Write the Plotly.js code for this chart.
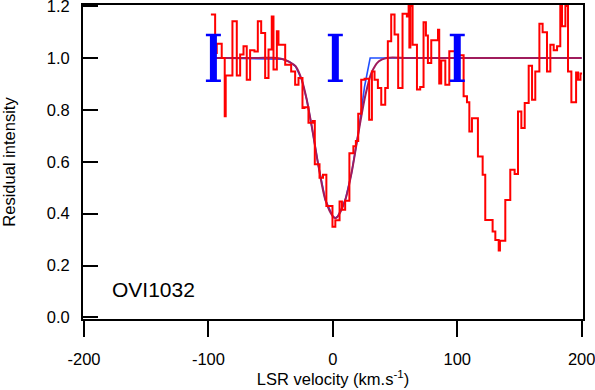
<!DOCTYPE html>
<html>
<head>
<meta charset="utf-8">
<script src="https://cdn.plot.ly/plotly-3.0.1.min.js"></script>
<style>
  html, body { margin: 0; padding: 0; background: #fff; }
  #plot { width: 595px; height: 390px; }
</style>
</head>
<body>
<div id="plot"></div>
<script>
// observed spectrum, left bin edges (km/s) and residual intensity
var specV = [-98.0, -94.6, -93.3, -89.3, -86.9, -86.1, -80.7, -77.2, -74.5, -71.8,
             -69.2, -66.5, -63.0, -60.3, -57.6, -54.4, -51.7, -49.1, -47.7, -45.0,
             -43.7, -38.3, -33.5, -30.3, -27.6, -24.4, -22.8, -19.6, -16.1, -14.5,
             -10.7, -7.9, -5.2, -0.3, 2.0, 5.4, 7.3, 9.9, 13.3, 16.5,
             18.5, 20.4, 22.8, 25.5, 29.2, 31.4, 33.5, 36.2, 38.9, 42.1,
             44.2, 46.9, 49.6, 52.5, 56.0, 59.5, 60.9, 61.5, 62.3, 64.1,
             67.6, 70.2, 72.9, 74.8, 76.4, 79.1, 84.5, 85.5, 87.1, 90.4,
             93.6, 99.0, 105.1, 107.8, 109.7, 111.8, 116.6, 120.4, 122.5, 128.4,
             130.6, 133.3, 134.3, 138.6, 142.6, 146.1, 148.8, 151.5, 154.2, 157.4,
             160.1, 162.7, 166.0, 168.6, 172.1, 174.8, 177.5, 180.2, 182.8, 184.2,
             186.9, 189.0, 191.7, 195.5, 197.1, 199.0, 200.3];
var specI = [1.167, 1.019, 1.055, 1.0, 0.775, 0.932, 1.141, 0.932, 1.013, 1.045,
             0.916, 1.03, 1.025, 1.141, 1.096, 0.923, 1.032, 1.16, 0.955, 1.103,
             1.051, 0.974, 0.948, 0.897, 0.923, 0.807, 0.81, 0.75, 0.757, 0.59,
             0.538, 0.55, 0.43, 0.35, 0.375, 0.447, 0.415, 0.45, 0.633, 0.66,
             0.68, 0.785, 0.916, 0.92, 0.762, 0.948, 0.916, 0.884, 0.82, 0.884,
             1.064, 1.167, 1.09, 0.884, 1.17, 1.16, 1.2, 1.04, 1.2, 1.051,
             0.878, 0.888, 1.137, 1.086, 0.98, 1.068, 1.109, 0.901, 0.99, 0.897,
             1.026, 1.01, 0.852, 0.829, 0.717, 0.768, 0.62, 0.55, 0.376, 0.331,
             0.299, 0.258, 0.296, 0.453, 0.569, 0.553, 0.794, 0.73, 0.826, 0.97,
             0.839, 0.948, 1.132, 1.099, 0.948, 1.051, 1.03, 1.045, 1.2, 1.122,
             1.2, 0.948, 0.829, 0.944, 0.916, 0.94, 0.94];

// convolved fit
var fitV = [-97, -60, -45, -40, -35, -30, -25, -21, -17, -11.5, -6, 0, 2, 4, 10, 15, 20.5, 26, 31, 37, 43, 60, 100, 200];
var fitI = [1.0, 1.0, 1.0, 0.995, 0.985, 0.968, 0.916, 0.84, 0.737, 0.582, 0.453, 0.39, 0.383, 0.39, 0.453, 0.556, 0.71, 0.852, 0.942, 0.987, 1.0, 1.0, 1.0, 1.0];

// intrinsic model
var modV = [-97, -40, -35, -30, -25, -21, -17, -11.5, -6, 0, 2, 4, 10, 15, 20.5, 25.5, 30, 200];
var modI = [1.0, 0.995, 0.985, 0.968, 0.916, 0.84, 0.737, 0.582, 0.453, 0.39, 0.383, 0.39, 0.453, 0.556, 0.71, 0.89, 1.0, 1.0];

// component positions
var compV = [-96, 2, 100];
var compI = [1.0, 1.0, 1.0];
var compErr = [0.088, 0.088, 0.088];

var xTicks = [-200, -100, 0, 100, 200];
var xLabels = ['-200', '-100', '0', '100', '200'];
var yTicks = [0, 0.2, 0.4, 0.6, 0.8, 1.0, 1.2];
var yLabels = ['0.0', '0.2', '0.4', '0.6', '0.8', '1.0', '1.2'];

var font = 'Liberation Sans, Arial, Helvetica, sans-serif';

var data = [
    {x: modV, y: modI, mode: 'lines', line: {color: '#1f4fff', width: 1.6}, hoverinfo: 'skip'},
    {x: fitV, y: fitI, mode: 'lines', line: {color: '#a01c5c', width: 2, shape: 'spline', smoothing: 0.8}, hoverinfo: 'skip'},
    {x: specV, y: specI, mode: 'lines', line: {color: '#ff0000', width: 2, shape: 'hv'}},
    {x: compV, y: compI, mode: 'markers', marker: {size: 1, opacity: 0},
     error_y: {type: 'data', array: compErr, color: '#0000ff', thickness: 7, width: 0}},
    {x: compV, y: compI, mode: 'markers', marker: {size: 1, opacity: 0},
     error_y: {type: 'data', array: compErr, color: '#0000ff', thickness: 2.5, width: 7.5}}
];

var layout = {
    width: 595,
    height: 390,
    showlegend: false,
    paper_bgcolor: '#ffffff',
    plot_bgcolor: '#ffffff',
    margin: {l: 83, r: 12, t: 5, b: 71},
    font: {family: font, size: 16.5, color: '#000'},
    xaxis: {
        range: [-200.8, 201.05],
        tickvals: xTicks, ticktext: xLabels,
        ticks: 'outside', ticklen: 16, tickwidth: 2, tickcolor: '#000',
        showline: true, linewidth: 2, linecolor: '#000', mirror: true,
        showgrid: false, zeroline: false,
        ticklabelstandoff: 8, ticklabeloverflow: 'allow',
        title: {text: 'LSR velocity (km.s<sup>-1</sup>)', font: {size: 16.5}, standoff: 5}
    },
    yaxis: {
        range: [-0.0058, 1.2039],
        tickvals: yTicks, ticktext: yLabels,
        ticks: 'inside', ticklen: 15, tickwidth: 2, tickcolor: '#000',
        showline: true, linewidth: 2, linecolor: '#000', mirror: true,
        showgrid: false, zeroline: false,
        ticklabelstandoff: 8, ticklabeloverflow: 'allow',
        title: {text: 'Residual intensity', font: {size: 16.5}, standoff: 29}
    },
    annotations: [{
        text: 'OVI1032', x: -179, y: 0.106, xref: 'x', yref: 'y',
        xanchor: 'left', yanchor: 'middle', showarrow: false,
        font: {family: font, size: 21, color: '#000'}
    }]
};

Plotly.newPlot('plot', data, layout, {displayModeBar: false, staticPlot: true});
</script>
</body>
</html>
